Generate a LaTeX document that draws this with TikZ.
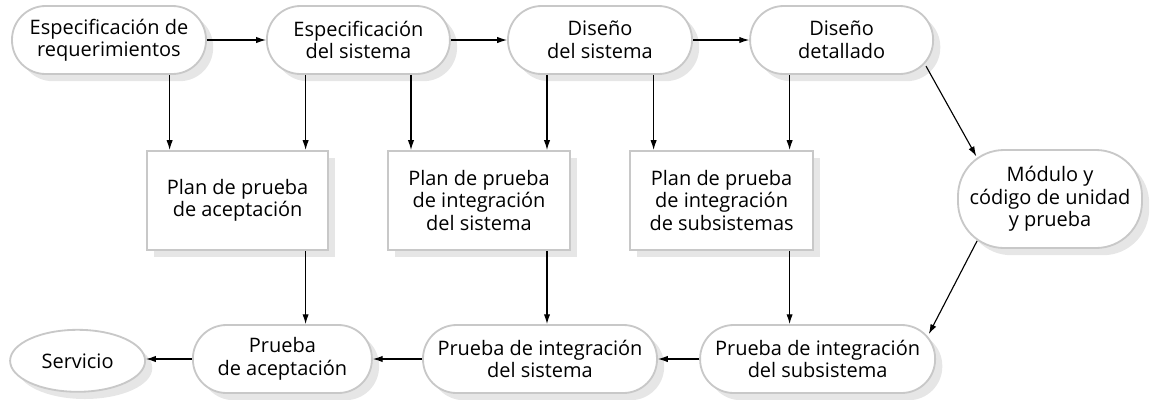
\documentclass[tikz,border=0pt]{standalone}
\usepackage{fontspec}
\setmainfont{Open Sans}
\usepackage{tikz}
\usetikzlibrary{calc, positioning, shadows}
\usetikzlibrary{shapes, arrows, arrows.meta}
\definecolor{edgegray}{HTML}{C8C8C8}
\definecolor{shadegray}{HTML}{E6E6E6}
\tikzset{  
    base/.style ={draw=edgegray, line width=1.3pt, fill=white, align=center, inner sep=0pt, font=\fontsize{14.2}{16}\selectfont,
        drop shadow={shadow xshift=0.18cm, shadow yshift=-0.18cm, fill=shadegray, opacity=1}}, % shared look of every box
    state/.style ={base, rectangle, rounded corners=0.84cm, minimum height=1.7cm}, % the pill shaped phases
    plan/.style ={base, rectangle, minimum height=2.475cm},
    el/.style = {-{Latex[length=7pt, width=4.5pt]}, line width=0.8pt}
}
\begin{document}
\begin{tikzpicture}
        \useasboundingbox (0,0) rectangle (28.825,-9.975);
        
        %nodes
        
        \node(A)[state, minimum width=4.85cm] at (2.725,-1.0) {Especificación de\\requerimientos};
        \node(B)[state, minimum width=4.575cm] at (8.96,-1.0) {Especificación\\del sistema};
        \node(C)[state, minimum width=4.6cm] at (15.0,-1.0) {Diseño\\del sistema};
        \node(D)[state, minimum width=4.575cm] at (21.04,-1.0) {Diseño\\detallado};
        \node(M)[state, rounded corners=1.15cm, minimum width=4.6cm, minimum height=2.45cm] at (26.25,-4.975) {Módulo y\\código de unidad\\y prueba};
        \node(P1)[plan, minimum width=4.525cm] at (5.94,-5.01) {Plan de prueba\\de aceptación};
        \node(P2)[plan, minimum width=4.55cm] at (11.975,-5.01) {Plan de prueba\\de integración\\del sistema};
        \node(P3)[plan, minimum width=4.575cm] at (18.04,-5.01) {Plan de prueba\\de integración\\de subsistemas};
        \node(S)[base, ellipse, minimum width=3.375cm, minimum height=1.55cm] at (1.94,-9.02) {Servicio};
        \node(T1)[state, minimum width=4.475cm] at (7.06,-8.975) {Prueba\\de aceptación};
        \node(T2)[state, minimum width=5.85cm] at (13.5,-8.975) {Prueba de integración\\del sistema};
        \node(T3)[state, minimum width=5.875cm] at (20.44,-8.975) {Prueba de integración\\del subsistema};
        
        %arrows
        
        \draw[el] (A.east) -- (B.west);
        \draw[el] (B.east) -- (C.west);
        \draw[el] (C.east) -- (D.west);
        \draw[el] ([xshift=-1.7cm]P1.north |- A.south) -- ([xshift=-1.7cm]P1.north);
        \draw[el] ([xshift=1.7cm]P1.north |- B.south) -- ([xshift=1.7cm]P1.north);
        \draw[el] ([xshift=-1.7cm]P2.north |- B.south) -- ([xshift=-1.7cm]P2.north);
        \draw[el] ([xshift=1.7cm]P2.north |- C.south) -- ([xshift=1.7cm]P2.north);
        \draw[el] ([xshift=-1.7cm]P3.north |- C.south) -- ([xshift=-1.7cm]P3.north);
        \draw[el] ([xshift=1.7cm]P3.north |- D.south) -- ([xshift=1.7cm]P3.north);
        \draw[el] ([shift={(-0.2,0.22)}]D.south east) -- ([shift={(0.48,-0.18)}]M.north west);
        \draw[el] ([shift={(0.5,0.2)}]M.south west) -- ([shift={(-0.18,-0.25)}]T3.north east);
        \draw[el] ([xshift=1.7cm]P1.south) -- ([xshift=1.7cm]P1.south |- T1.north);
        \draw[el] ([xshift=1.7cm]P2.south) -- ([xshift=1.7cm]P2.south |- T2.north);
        \draw[el] ([xshift=1.7cm]P3.south) -- ([xshift=1.7cm]P3.south |- T3.north);
        \draw[el] (T3.west) -- (T2.east);
        \draw[el] (T2.west) -- (T1.east);
        \draw[el] (T1.west) -- (T1.west -| S.east);
    \end{tikzpicture}
\end{document}
